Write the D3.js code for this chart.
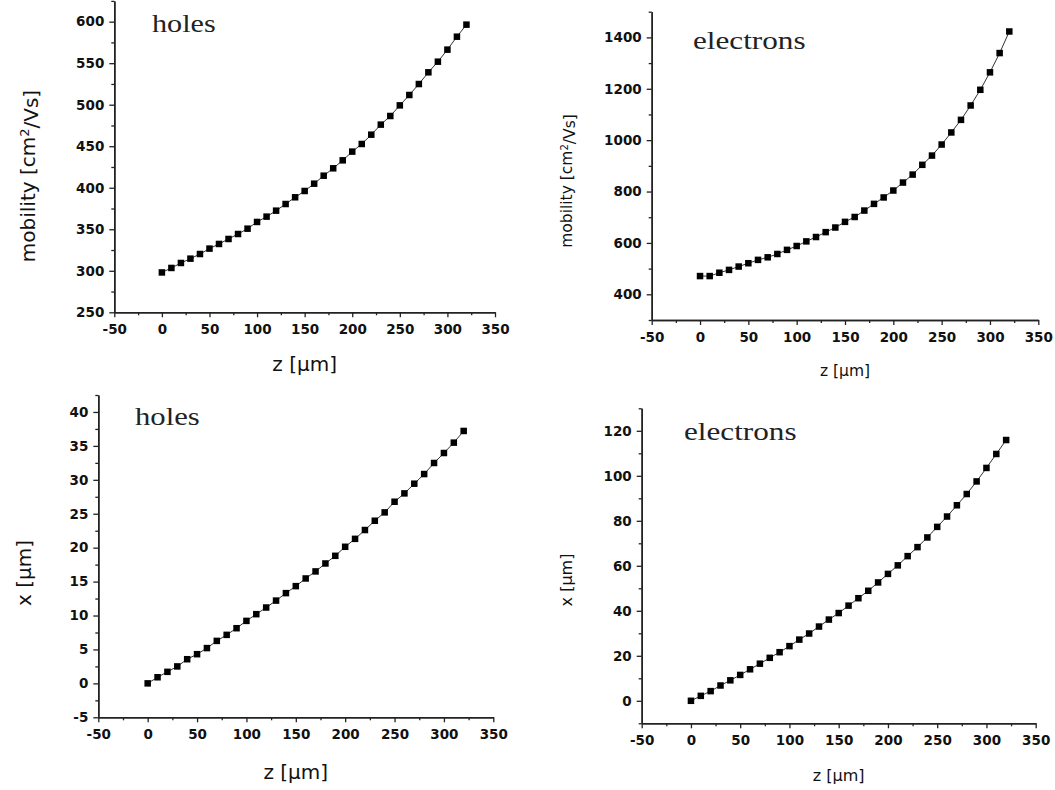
<!DOCTYPE html>
<html>
<head>
<meta charset="utf-8">
<script src="https://cdn.jsdelivr.net/npm/d3@7"></script>
<style>
  html, body { margin: 0; padding: 0; background: #fff; }
  svg { display: block; }
</style>
</head>
<body>
<svg id="fig" width="1055" height="790"></svg>
<script>
// Depth positions along the sensor (µm)
const zValues = [0, 10, 20, 30, 40, 50, 60, 70, 80, 90, 100, 110, 120, 130, 140, 150,
  160, 170, 180, 190, 200, 210, 220, 230, 240, 250, 260, 270, 280, 290, 300, 310, 320];

// Mobility of holes (cm²/Vs)
const holesMobility = [298, 303.4, 309.4, 314.6, 320.2, 326.7, 332.3, 338.3, 344.3, 350.7,
  358.8, 365.2, 372.4, 380.4, 388.5, 396.1, 404.9, 414.5, 423.4, 433, 443.5, 452.7,
  463.9, 476, 486.4, 499.2, 511.7, 524.9, 539, 551.8, 566.3, 581.9, 596.4];

// Mobility of electrons (cm²/Vs)
const electronsMobility = [471, 471, 484, 495, 508, 521, 534, 544, 557, 573, 588, 606,
  623, 642, 660, 682, 701, 726, 752, 777, 804, 835, 866, 904, 940, 983, 1030, 1079,
  1135, 1196, 1264, 1339, 1423];

// Lateral drift x of holes (µm)
const holesDrift = [0, 0.9, 1.7, 2.5, 3.56, 4.3, 5.2, 6.26, 7.15, 8.13, 9.21, 10.2,
  11.18, 12.2, 13.3, 14.33, 15.46, 16.5, 17.67, 18.8, 20.13, 21.3, 22.6, 23.97, 25.2,
  26.77, 28, 29.43, 30.85, 32.48, 33.95, 35.48, 37.2];

// Lateral drift x of electrons (µm)
const electronsDrift = [0, 2.2, 4.3, 6.8, 9.1, 11.5, 14.0, 16.5, 19.1, 21.6, 24.3, 27.2,
  29.9, 33.0, 36.1, 39.0, 42.3, 45.6, 48.9, 52.6, 56.4, 60.2, 64.3, 68.3, 72.6, 77.3,
  81.9, 86.9, 91.9, 97.5, 103.5, 109.7, 115.9];

// Axis tick values
const zTicksMajor = [-50, 0, 50, 100, 150, 200, 250, 300, 350];
const zTicksMinor = [-25, 25, 75, 125, 175, 225, 275, 325];
const holesMobTicks = [250, 300, 350, 400, 450, 500, 550, 600];
const holesMobMinor = [275, 325, 375, 425, 475, 525, 575, 625];
const elecMobTicks = [400, 600, 800, 1000, 1200, 1400];
const elecMobMinor = [300, 500, 700, 900, 1100, 1300, 1500];
const holesDriftTicks = [-5, 0, 5, 10, 15, 20, 25, 30, 35, 40];
const holesDriftMinor = [-2.5, 2.5, 7.5, 12.5, 17.5, 22.5, 27.5, 32.5, 37.5, 42.5];
const elecDriftTicks = [0, 20, 40, 60, 80, 100, 120];
const elecDriftMinor = [-10, 10, 30, 50, 70, 90, 110, 130];

const svg = d3.select("#fig");
const ink = "#111";

const panels = [
  {
    label: "holes", values: holesMobility,
    xRange: [114.3, 495], yDomain: [250, 625], yRange: [312.3, 0.9],
    yMajor: holesMobTicks, yMinor: holesMobMinor,
    yTitle: "mobility", yUnit: "mob", titleSize: 20, yTitlePos: [28, 176],
    xTitleY: 371, labelPos: [152, 32], labelSize: 26, labelScale: 1.16, marker: 6.5
  },
  {
    label: "electrons", values: electronsMobility,
    xRange: [651.7, 1038.3], yDomain: [300, 1500], yRange: [320, 11.7],
    yMajor: elecMobTicks, yMinor: elecMobMinor,
    yTitle: "mobility", yUnit: "mob", titleSize: 15.5, yTitlePos: [567, 181],
    xTitleY: 376, labelPos: [693, 49], labelSize: 26, labelScale: 1.2, marker: 6.5
  },
  {
    label: "holes", values: holesDrift,
    xRange: [98.3, 493.3], yDomain: [-5, 42.5], yRange: [717.3, 395],
    yMajor: holesDriftTicks, yMinor: holesDriftMinor,
    yTitle: "x", yUnit: "len", titleSize: 20, yTitlePos: [24, 573],
    xTitleY: 779, labelPos: [135, 425], labelSize: 26, labelScale: 1.18, marker: 6.5
  },
  {
    label: "electrons", values: electronsDrift,
    xRange: [641.7, 1035.7], yDomain: [-10, 130], yRange: [723.3, 408.3],
    yMajor: elecDriftTicks, yMinor: elecDriftMinor,
    yTitle: "x", yUnit: "len", titleSize: 16, yTitlePos: [566, 580],
    xTitleY: 781, labelPos: [684, 440], labelSize: 26, labelScale: 1.2, marker: 6.5
  }
];

// plain hyphen for negative numbers, as in the printed figure
const fmt = d => String(d);

function styleAxis(g) {
  g.select(".domain").attr("stroke", "#222").attr("stroke-width", 1.5);
  g.selectAll(".tick line").attr("stroke", "#222").attr("stroke-width", 1.3);
}

function styleTickText(sel) {
  sel.attr("fill", ink)
    .style("font-family", "'DejaVu Sans', sans-serif")
    .style("font-weight", "bold")
    .style("font-size", "13.5px");
}

panels.forEach(p => {
  const x = d3.scaleLinear().domain([-50, 350]).range(p.xRange);
  const y = d3.scaleLinear().domain(p.yDomain).range(p.yRange);
  const y0 = p.yRange[0];
  const x0 = p.xRange[0];
  const g = svg.append("g");

  // minor ticks
  g.append("g").attr("transform", `translate(0,${y0})`)
    .call(d3.axisBottom(x).tickValues(zTicksMinor).tickSize(3).tickSizeOuter(0).tickFormat(""))
    .call(styleAxis);
  g.append("g").attr("transform", `translate(${x0},0)`)
    .call(d3.axisLeft(y).tickValues(p.yMinor.filter(v => v <= p.yDomain[1])).tickSize(3).tickSizeOuter(0).tickFormat(""))
    .call(styleAxis);

  // major ticks with labels
  g.append("g").attr("transform", `translate(0,${y0})`)
    .call(d3.axisBottom(x).tickValues(zTicksMajor).tickSize(5).tickPadding(7).tickSizeOuter(0).tickFormat(fmt))
    .call(styleAxis)
    .selectAll("text").call(styleTickText);

  g.append("g").attr("transform", `translate(${x0},0)`)
    .call(d3.axisLeft(y).tickValues(p.yMajor).tickSize(5).tickPadding(5).tickSizeOuter(0).tickFormat(fmt))
    .call(styleAxis)
    .selectAll("text").call(styleTickText);

  // connecting line
  const pts = zValues.map((z, i) => [z, p.values[i]]);
  g.append("path")
    .datum(pts)
    .attr("fill", "none")
    .attr("stroke", "#333")
    .attr("stroke-width", 1)
    .attr("d", d3.line().x(d => x(d[0])).y(d => y(d[1])));

  // square markers
  g.selectAll("rect.pt")
    .data(pts)
    .join("rect")
    .attr("class", "pt")
    .attr("x", d => x(d[0]) - p.marker / 2)
    .attr("y", d => y(d[1]) - p.marker / 2)
    .attr("width", p.marker)
    .attr("height", p.marker)
    .attr("fill", "#000");

  // series label
  g.append("text")
    .attr("transform", `translate(${p.labelPos[0]},${p.labelPos[1]}) scale(${p.labelScale},1)`)
    .style("font-family", "'Liberation Serif', 'Times New Roman', serif")
    .style("font-size", p.labelSize + "px")
    .attr("fill", "#222")
    .text(p.label);

  // x-axis title
  g.append("text")
    .attr("x", (p.xRange[0] + p.xRange[1]) / 2)
    .attr("y", p.xTitleY)
    .attr("text-anchor", "middle")
    .attr("fill", ink)
    .style("font-family", "'DejaVu Sans', sans-serif")
    .style("font-size", p.titleSize + "px")
    .text("z [µm]");

  // y-axis title
  const yt = g.append("text")
    .attr("transform", `translate(${p.yTitlePos[0]},${p.yTitlePos[1]}) rotate(-90)`)
    .attr("text-anchor", "middle")
    .attr("dy", "0.35em")
    .attr("fill", ink)
    .style("font-family", "'DejaVu Sans', sans-serif")
    .style("font-size", p.titleSize + "px");
  if (p.yUnit === "mob") {
    yt.append("tspan").text(p.yTitle + " [cm");
    yt.append("tspan").attr("dy", "-0.45em").style("font-size", "0.65em").text("2");
    yt.append("tspan").attr("dy", "0.45em").text("/Vs]");
  } else {
    yt.append("tspan").text(p.yTitle + " [µm]");
  }
});
</script>
</body>
</html>
